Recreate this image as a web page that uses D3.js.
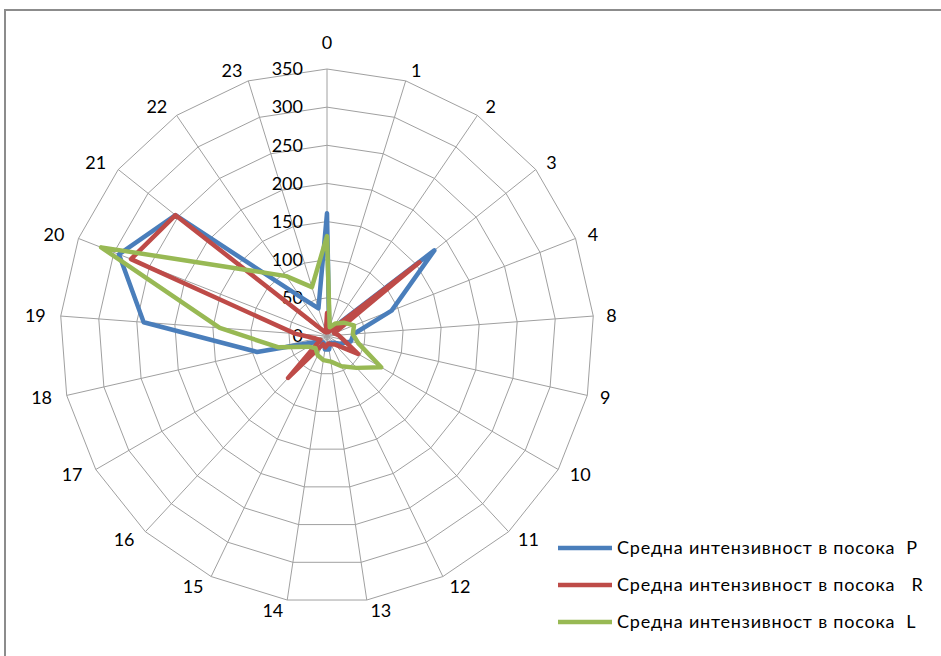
<!DOCTYPE html>
<html>
<head>
<meta charset="utf-8">
<script src="https://cdn.jsdelivr.net/npm/d3@7/dist/d3.min.js"></script>
<style>
  html, body { margin: 0; padding: 0; background: #fff; }
  svg { display: block; }
  text { font-family: Lato, "Open Sans", sans-serif; fill: #000; }
</style>
</head>
<body>
<svg id="chart" width="941" height="656"></svg>
<script>
// Hours of the day shown on the radar (5–7 are absent from the survey)
const categories = ["0","1","2","3","4","8","9","10","11","12","13","14","15","16","17","18","19","20","21","22","23"];

// Average intensity per direction
const seriesP = [161, 10, 12, 180, 91, 35, 32, 20, 12, 10, 18, 18, 10, 10, 15, 94, 241, 293, 254, 62, 38];
const seriesR = [30, 5, 10, 155, 10, 15, 22, 47, 15, 12, 10, 15, 12, 75, 10, 15, 42, 276, 254, 8, 5];
const seriesL = [131, 12, 20, 28, 38, 34, 42, 82, 57, 44, 34, 32, 28, 22, 28, 66, 141, 318, 140, 95, 67];

const seriesNames = [
  "Средна интензивност в посока  P",
  "Средна интензивност в посока   R",
  "Средна интензивност в посока  L"
];
const seriesColors = ["#4a7ebb", "#be4b48", "#98b954"];

const tickValues = [0, 50, 100, 150, 200, 250, 300, 350];

const svg = d3.select("#chart");

// Outer chart-area frame
svg.append("rect")
  .attr("x", 5).attr("y", 10)
  .attr("width", 980).attr("height", 700)
  .attr("fill", "none")
  .attr("stroke", "#8c8c8c")
  .attr("stroke-width", 2);

const cx = 327, cy = 336, R = 267;
const g = svg.append("g").attr("transform", `translate(${cx},${cy})`);

const r = d3.scaleLinear().domain([0, 350]).range([0, R]);
const n = categories.length;
const angle = d3.scaleLinear().domain([0, n]).range([0, 2 * Math.PI]);

const pt = (i, v) => [Math.sin(angle(i)) * r(v), -Math.cos(angle(i)) * r(v)];

// Polygonal grid rings
tickValues.slice(1).forEach(t => {
  g.append("path")
    .attr("d", d3.line()(d3.range(n).map(i => pt(i, t))) + "Z")
    .attr("fill", "none")
    .attr("stroke", "#a0a0a0")
    .attr("stroke-width", 1);
});

// Spokes
d3.range(n).forEach(i => {
  const [x, y] = pt(i, 350);
  g.append("line")
    .attr("x1", 0).attr("y1", 0).attr("x2", x).attr("y2", y)
    .attr("stroke", "#a0a0a0")
    .attr("stroke-width", 1);
});

// Value-axis labels along the vertical spoke
g.selectAll("text.tick")
  .data(tickValues)
  .enter().append("text")
  .attr("class", "tick")
  .attr("x", -24)
  .attr("y", d => -r(d))
  .attr("dy", "0.35em")
  .attr("text-anchor", "end")
  .attr("font-size", 18)
  .text(d => d);

// Category labels just outside each spoke end
categories.forEach((c, i) => {
  const a = angle(i);
  const s = Math.sin(a), co = Math.cos(a);
  const [vx, vy] = pt(i, 350);
  let anchor = "middle", dx = 0;
  if (s > 0.01) { anchor = "start"; dx = 2 + 11 * s; }
  else if (s < -0.01) { anchor = "end"; dx = -(2 + 13 * -s); }
  // the category sitting on the value axis is lifted clear of the tick labels
  const dy = Math.abs(s) < 0.01 ? -26 : -co * 11;
  g.append("text")
    .attr("x", vx + dx)
    .attr("y", vy + dy)
    .attr("dy", "0.35em")
    .attr("text-anchor", anchor)
    .attr("font-size", 18)
    .text(c);
});

// Series polygons
const radial = d3.lineRadial()
  .angle((d, i) => angle(i))
  .radius(d => r(d))
  .curve(d3.curveLinearClosed);

[seriesP, seriesR, seriesL].forEach((s, k) => {
  g.append("path")
    .attr("d", radial(s))
    .attr("fill", "none")
    .attr("stroke", seriesColors[k])
    .attr("stroke-width", 4.5)
    .attr("stroke-linejoin", "round");
});

// Legend
const legend = svg.append("g").attr("transform", "translate(558,548)");
seriesNames.forEach((name, k) => {
  const row = legend.append("g").attr("transform", `translate(0,${k * 37})`);
  row.append("line")
    .attr("x1", 0).attr("x2", 54).attr("y1", 0).attr("y2", 0)
    .attr("stroke", seriesColors[k])
    .attr("stroke-width", 4.5);
  row.append("text")
    .attr("x", 59).attr("y", 0).attr("dy", "0.35em")
    .attr("font-size", 18)
    .attr("letter-spacing", 0.8)
    .style("white-space", "pre")
    .text(name);
});
</script>
</body>
</html>
